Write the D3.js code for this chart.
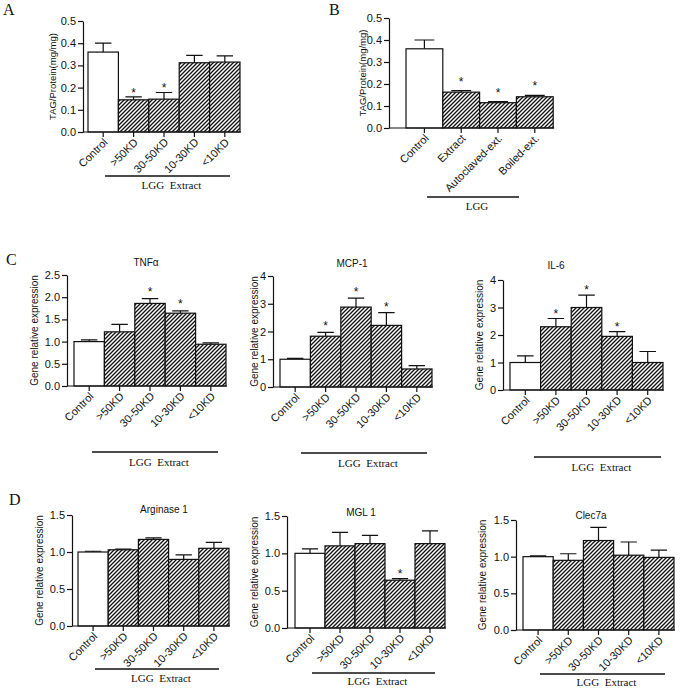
<!DOCTYPE html>
<meta charset="utf-8">
<title>LGG extract panels</title>
<style>
body { margin: 0; background: #fff; }
svg { display: block; }
.tick text { font-family: Arial, "Liberation Sans", sans-serif; font-size: 11px; fill: #111; }
.tick line, .domain { stroke: #111; stroke-width: 1.2; }
.ylab, .ptitle, .star { font-family: Arial, "Liberation Sans", sans-serif; fill: #111; }
.xlab { font-family: Arial, "Liberation Sans", sans-serif; font-size: 11px; fill: #111; }
.grp { font-family: "Liberation Serif", "Times New Roman", serif; font-size: 11px; fill: #111; }
.letter { font-family: "Liberation Serif", "Times New Roman", serif; font-size: 16px; fill: #111; }
</style>
<body>
<svg width="685" height="691"></svg>
<script src="https://d3js.org/d3.v7.min.js"></script>
<script>
// categories
var fracCats = ["Control", ">50KD", "30-50KD", "10-30KD", "<10KD"];
var treatCats = ["Control", "Extract", "Autoclaved-ext.", "Boiled-ext."];

// A: TAG by fraction
var tagFracMean = [0.36, 0.145, 0.148, 0.312, 0.315];
var tagFracErr  = [0.04, 0.013, 0.03, 0.033, 0.028];
var tagFracSig  = [0, 1, 1, 0, 0];

// B: TAG by treatment
var tagTreatMean = [0.36, 0.163, 0.115, 0.142];
var tagTreatErr  = [0.04, 0.007, 0.005, 0.006];
var tagTreatSig  = [0, 1, 1, 1];

// C: inflammatory genes
var tnfMean = [1.0, 1.22, 1.86, 1.64, 0.94];
var tnfErr  = [0.04, 0.17, 0.11, 0.05, 0.03];
var tnfSig  = [0, 0, 1, 1, 0];
var mcpMean = [1.0, 1.83, 2.88, 2.22, 0.65];
var mcpErr  = [0.03, 0.14, 0.32, 0.46, 0.12];
var mcpSig  = [0, 1, 1, 1, 0];
var il6Mean = [1.0, 2.3, 3.0, 1.95, 1.0];
var il6Err  = [0.24, 0.3, 0.45, 0.17, 0.4];
var il6Sig  = [0, 1, 1, 1, 0];

// D: M2 markers
var argMean = [1.0, 1.03, 1.17, 0.9, 1.05];
var argErr  = [0.01, 0.01, 0.02, 0.06, 0.08];
var argSig  = [0, 0, 0, 0, 0];
var mglMean = [1.0, 1.1, 1.13, 0.64, 1.13];
var mglErr  = [0.06, 0.18, 0.11, 0.02, 0.17];
var mglSig  = [0, 0, 0, 1, 0];
var clecMean = [1.0, 0.95, 1.22, 1.02, 0.99];
var clecErr  = [0.01, 0.09, 0.18, 0.18, 0.1];
var clecSig  = [0, 0, 0, 0, 0];

var tick05 = [0, 0.1, 0.2, 0.3, 0.4, 0.5];
var tick25 = [0, 0.5, 1, 1.5, 2, 2.5];
var tick4  = [0, 1, 2, 3, 4];
var tick15 = [0, 0.5, 1, 1.5];

var svg = d3.select("svg");

// hatch pattern for treated bars
var pat = svg.append("defs").append("pattern")
    .attr("id", "hatch")
    .attr("patternUnits", "userSpaceOnUse")
    .attr("width", 4).attr("height", 4);
pat.append("rect").attr("width", 4).attr("height", 4).attr("fill", "#fff");
pat.append("path")
    .attr("d", "M-1,1 l2,-2 M0,4 l4,-4 M3,5 l2,-2")
    .attr("stroke", "#111").attr("stroke-width", 1.35);

var panels = [
  {ax: 83, y0: 132, y1: 21, max: 0.5, ticks: tick05, fmt: ".1f", bx: 88, bw: 30.4,
   cats: fracCats, mean: tagFracMean, err: tagFracErr, sig: tagFracSig, gap: 7,
   ylab: "TAG/Protein(mg/mg)", ylx: 56, ylsize: 9.5,
   grp: [105, 230, 176, 189, "LGG  Extract"]},
  {ax: 389, y0: 128, y1: 18, max: 0.5, ticks: tick05, fmt: ".1f", bx: 406, bw: 36.8,
   cats: treatCats, mean: tagTreatMean, err: tagTreatErr, sig: tagTreatSig, gap: 12,
   ylab: "TAG/Protein(mg/mg)", ylx: 366, ylsize: 9.5,
   grp: [427, 519, 197, 210, "LGG"]},
  {ax: 67, y0: 386, y1: 275, max: 2.5, ticks: tick25, fmt: ".1f", bx: 74, bw: 30.4,
   cats: fracCats, mean: tnfMean, err: tnfErr, sig: tnfSig, gap: 10,
   ylab: "Gene relative expression", ylx: 38, ylsize: 10, title: "TNF\u03b1", tx: 146, ty: 266,
   grp: [92, 218, 452, 466, "LGG  Extract"]},
  {ax: 273, y0: 387, y1: 276, max: 4, ticks: tick4, fmt: "d", bx: 280, bw: 30.4,
   cats: fracCats, mean: mcpMean, err: mcpErr, sig: mcpSig, gap: 9,
   ylab: "Gene relative expression", ylx: 258, ylsize: 10, title: "MCP-1", tx: 352, ty: 267,
   grp: [301, 427, 453, 467, "LGG  Extract"]},
  {ax: 503, y0: 390, y1: 280, max: 4, ticks: tick4, fmt: "d", bx: 510, bw: 30.6,
   cats: fracCats, mean: il6Mean, err: il6Err, sig: il6Sig, gap: 8,
   ylab: "Gene relative expression", ylx: 483, ylsize: 10, title: "IL-6", tx: 556, ty: 269,
   grp: [534, 661, 457, 471, "LGG  Extract"]},
  {ax: 72, y0: 626, y1: 515, max: 1.5, ticks: tick15, fmt: ".1f", bx: 78, bw: 30.2,
   cats: fracCats, mean: argMean, err: argErr, sig: argSig, gap: 8,
   ylab: "Gene relative expression", ylx: 43, ylsize: 10, title: "Arginase 1", tx: 164, ty: 513,
   grp: [95, 219, 669, 682, "LGG  Extract"]},
  {ax: 287, y0: 628, y1: 516, max: 1.5, ticks: tick15, fmt: ".1f", bx: 295, bw: 30,
   cats: fracCats, mean: mglMean, err: mglErr, sig: mglSig, gap: 8,
   ylab: "Gene relative expression", ylx: 258, ylsize: 10, title: "MGL 1", tx: 361, ty: 516,
   grp: [312, 435, 673, 685, "LGG  Extract"]},
  {ax: 516, y0: 630, y1: 520, max: 1.5, ticks: tick15, fmt: ".1f", bx: 523, bw: 30.2,
   cats: fracCats, mean: clecMean, err: clecErr, sig: clecSig, gap: 8,
   ylab: "Gene relative expression", ylx: 486, ylsize: 10, title: "Clec7a", tx: 591, ty: 519,
   grp: [540, 665, 674, 686, "LGG  Extract"]}
];

panels.forEach(function(p) {
  var g = svg.append("g");
  var y = d3.scaleLinear().domain([0, p.max]).range([p.y0, p.y1]);
  var x = d3.scaleBand().domain(p.cats)
      .range([p.bx, p.bx + p.bw * p.cats.length]).padding(0);
  var rows = p.cats.map(function(c, i) {
    return {cat: c, i: i, mean: p.mean[i], err: p.err[i], sig: p.sig[i]};
  });

  // error bars (upper only) drawn under bars
  g.selectAll(".eb").data(rows).enter().append("path")
      .attr("fill", "none").attr("stroke", "#111").attr("stroke-width", 1.2)
      .attr("d", function(d) {
        var cx = x(d.cat) + x.bandwidth() / 2, cw = x.bandwidth() * 0.27;
        return "M" + cx + "," + y(d.mean) + "V" + y(d.mean + d.err) +
               "M" + (cx - cw) + "," + y(d.mean + d.err) + "H" + (cx + cw);
      });

  g.selectAll(".bar").data(rows).enter().append("rect")
      .attr("x", function(d) { return x(d.cat); })
      .attr("width", x.bandwidth())
      .attr("y", function(d) { return y(d.mean); })
      .attr("height", function(d) { return y(0) - y(d.mean); })
      .attr("fill", function(d) { return d.i === 0 ? "#fff" : "url(#hatch)"; })
      .attr("stroke", "#111").attr("stroke-width", 1.2);

  // significance stars, centred about `gap` px above the error cap
  g.selectAll(".star").data(rows.filter(function(d) { return d.sig; }))
    .enter().append("text")
      .attr("class", "star")
      .attr("font-size", 12)
      .attr("text-anchor", "middle")
      .attr("x", function(d) { return x(d.cat) + x.bandwidth() / 2; })
      .attr("y", function(d) { return y(d.mean + d.err) - p.gap + 7; })
      .text("*");

  // y axis
  g.append("g")
      .attr("transform", "translate(" + p.ax + ",0)")
      .call(d3.axisLeft(y).tickValues(p.ticks).tickFormat(d3.format(p.fmt))
            .tickSize(5).tickSizeOuter(0).tickPadding(2));

  // x baseline and ticks
  g.append("line")
      .attr("x1", p.ax).attr("x2", p.bx + p.bw * p.cats.length + 1)
      .attr("y1", p.y0).attr("y2", p.y0)
      .attr("stroke", "#111").attr("stroke-width", 1.2);
  var xa = g.append("g")
      .attr("transform", "translate(0," + p.y0 + ")")
      .call(d3.axisBottom(x).tickSize(5).tickFormat(""));
  xa.select(".domain").remove();

  g.selectAll(".xlab").data(rows).enter().append("text")
      .attr("class", "xlab")
      .attr("text-anchor", "end")
      .attr("transform", function(d) {
        return "translate(" + (x(d.cat) + x.bandwidth() / 2 + 5) + "," + (p.y0 + 11) + ") rotate(-45)";
      })
      .text(function(d) { return d.cat; });

  g.append("text")
      .attr("class", "ylab")
      .attr("font-size", p.ylsize)
      .attr("text-anchor", "middle")
      .attr("transform", "translate(" + p.ylx + "," + (p.y0 + p.y1) / 2 + ") rotate(-90)")
      .text(p.ylab);

  if (p.title) {
    g.append("text").attr("class", "ptitle").attr("font-size", 10)
        .attr("text-anchor", "middle")
        .attr("x", p.tx).attr("y", p.ty).text(p.title);
  }

  // group bracket under the treated bars
  g.append("line")
      .attr("x1", p.grp[0]).attr("x2", p.grp[1])
      .attr("y1", p.grp[2]).attr("y2", p.grp[2])
      .attr("stroke", "#111").attr("stroke-width", 1.3);
  g.append("text").attr("class", "grp")
      .attr("text-anchor", "middle")
      .attr("x", (p.grp[0] + p.grp[1]) / 2 + 4).attr("y", p.grp[3])
      .attr("xml:space", "preserve")
      .style("white-space", "pre")
      .text(p.grp[4]);
});

// panel letters
var letters = [["A", 3, 15], ["B", 329, 15], ["C", 6, 265], ["D", 9, 505]];
svg.selectAll(".letter").data(letters).enter().append("text")
    .attr("class", "letter")
    .attr("x", function(d) { return d[1]; })
    .attr("y", function(d) { return d[2]; })
    .text(function(d) { return d[0]; });
</script>
</body>
